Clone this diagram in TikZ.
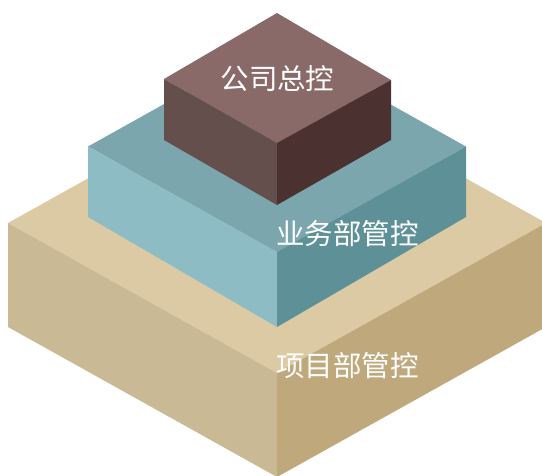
\documentclass[tikz,border=0pt]{standalone}
\usepackage{fontspec}
\newfontfamily\cjk{Noto Sans CJK SC}
\definecolor{tanTop}{HTML}{DBCAA3}
\definecolor{tanLeft}{HTML}{C9B994}
\definecolor{tanRight}{HTML}{BFA87C}
\definecolor{tealTop}{HTML}{7BA6AD}
\definecolor{tealLeft}{HTML}{8DBCC4}
\definecolor{tealRight}{HTML}{5E9097}
\definecolor{brnTop}{HTML}{896A69}
\definecolor{brnLeft}{HTML}{644F4D}
\definecolor{brnRight}{HTML}{4B3230}
\tikzset{
  lbl/.style={text=white, font=\cjk\fontsize{28.5}{31}\selectfont, inner sep=0pt}
}
\begin{document}
\begin{tikzpicture}[x=1pt,y=-1pt]
\useasboundingbox (0,0) rectangle (542,475);
\clip (0,0) rectangle (542,475);
% bottom box (tan)
\fill[tanTop]   (8,223) -- (277,73) -- (546,223) -- (277,373) -- cycle;
\fill[tanLeft]  (8,223) -- (277,373) -- (277,477) -- (8,327) -- cycle;
\fill[tanRight] (277,373) -- (546,223) -- (546,327) -- (277,477) -- cycle;
% middle box (teal)
\fill[tealTop]   (88,146.5) -- (277,41) -- (466,146.5) -- (277,252) -- cycle;
\fill[tealLeft]  (88,146.5) -- (277,252) -- (277,327) -- (88,217) -- cycle;
\fill[tealRight] (277,252) -- (466,146.5) -- (466,217) -- (277,327) -- cycle;
% top box (brown)
\fill[brnTop]   (164,79) -- (277,13) -- (391,80) -- (277,143) -- cycle;
\fill[brnLeft]  (164,79) -- (277,143) -- (277,205) -- (164,140) -- cycle;
\fill[brnRight] (277,143) -- (391,80) -- (391,140) -- (277,205) -- cycle;
% labels
\node[lbl] (top) at (277.5,79) {公司总控};
\node[lbl, anchor=west] (mid) at (276,234) {业务部管控};
\node[lbl, anchor=west] (bot) at (276,366) {项目部管控};
\end{tikzpicture}
\end{document}
